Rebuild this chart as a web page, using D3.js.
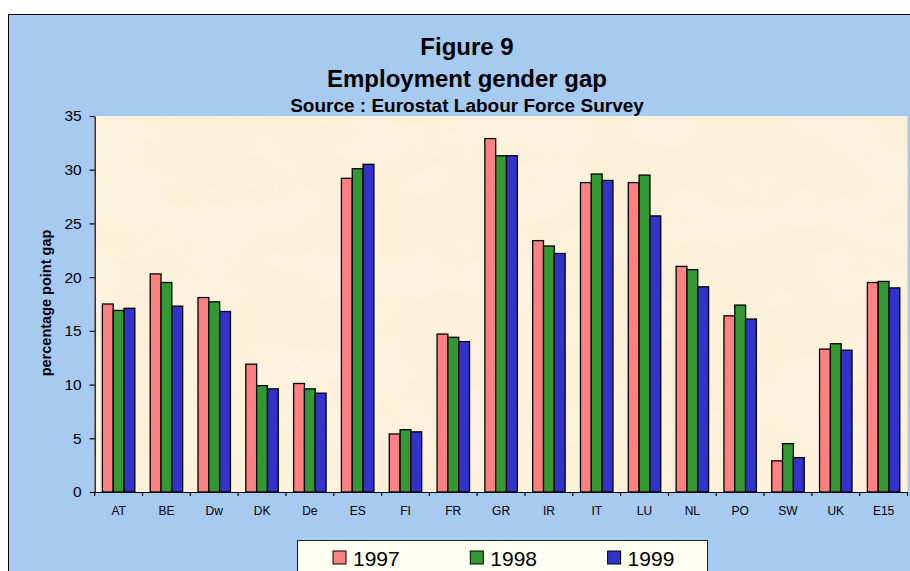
<!DOCTYPE html>
<html>
<head>
<meta charset="utf-8">
<script src="https://cdn.jsdelivr.net/npm/d3@7"></script>
<style>
  body { margin: 0; background: #fff; }
  svg { display: block; font-family: "Liberation Sans", Arial, sans-serif; }
</style>
</head>
<body>
<div class="plot"></div>
<script>
/* data */
const countries = ["AT", "BE", "Dw", "DK", "De", "ES", "FI", "FR", "GR", "IR", "IT", "LU", "NL", "PO", "SW", "UK", "E15"];
const years = ["1997", "1998", "1999"];
const gap1997 = [17.5, 20.3, 18.1, 11.9, 10.1, 29.2, 5.4, 14.7, 32.9, 23.4, 28.8, 28.8, 21.0, 16.4, 2.9, 13.3, 19.5];
const gap1998 = [16.9, 19.5, 17.7, 9.9, 9.6, 30.1, 5.8, 14.4, 31.3, 22.9, 29.6, 29.5, 20.7, 17.4, 4.5, 13.8, 19.6];
const gap1999 = [17.1, 17.3, 16.8, 9.6, 9.2, 30.5, 5.6, 14.0, 31.3, 22.2, 29.0, 25.7, 19.1, 16.1, 3.2, 13.2, 19.0];
const yTicks = [0, 5, 10, 15, 20, 25, 30, 35];

const colors = ["#ff8080", "#339933", "#3333cc"];

/* table built from the arrays */
const data = countries.map((c, i) => ({
  country: c,
  values: [gap1997[i], gap1998[i], gap1999[i]].map((v, j) => ({ year: years[j], value: v }))
}));

const width = 910, height = 571;
const plot = { left: 94.7, right: 907.5, top: 116, bottom: 492 };

const svg = d3.select(".plot").append("svg")
  .attr("width", width)
  .attr("height", height);

/* parchment texture for the plot area */
const defs = svg.append("defs");
const filt = defs.append("filter").attr("id", "parch")
  .attr("x", 0).attr("y", 0).attr("width", 1).attr("height", 1);
filt.append("feTurbulence")
  .attr("type", "fractalNoise")
  .attr("baseFrequency", "0.012 0.02")
  .attr("numOctaves", 4)
  .attr("seed", 7)
  .attr("result", "noise");
filt.append("feColorMatrix")
  .attr("in", "noise")
  .attr("type", "matrix")
  .attr("values", "0 0 0 0 0.99  0 0 0 0 0.92  0 0 0 0 0.80  0 0 0 -1.1 0.75")
  .attr("result", "tint");
filt.append("feComposite").attr("in", "tint").attr("in2", "SourceGraphic").attr("operator", "in");

/* blue outer panel */
svg.append("rect")
  .attr("x", 8.5).attr("y", 14.5)
  .attr("width", width + 20).attr("height", height + 20)
  .attr("fill", "#a6caf0")
  .attr("stroke", "#000")
  .attr("stroke-width", 1);

/* plot background */
svg.append("rect")
  .attr("x", plot.left).attr("y", plot.top)
  .attr("width", plot.right - plot.left).attr("height", plot.bottom - plot.top)
  .attr("fill", "#fcf0d8");
svg.append("rect")
  .attr("x", plot.left).attr("y", plot.top)
  .attr("width", plot.right - plot.left).attr("height", plot.bottom - plot.top)
  .attr("fill", "#fff")
  .attr("filter", "url(#parch)")
  .attr("opacity", 0.9);

/* titles */
const titles = [
  { text: "Figure 9", y: 55, size: 24 },
  { text: "Employment gender gap", y: 87, size: 24 },
  { text: "Source : Eurostat Labour Force Survey", y: 111.5, size: 19 }
];
svg.selectAll(".title")
  .data(titles)
  .join("text")
  .attr("class", "title")
  .attr("x", 467)
  .attr("y", d => d.y)
  .attr("text-anchor", "middle")
  .attr("font-weight", "bold")
  .attr("font-size", d => d.size)
  .text(d => d.text);

/* scales */
const x0 = d3.scaleBand()
  .domain(countries)
  .range([plot.left, plot.right])
  .padding(0);

const x1 = d3.scaleBand()
  .domain(years)
  .range([0, x0.bandwidth()])
  .paddingInner(0)
  .paddingOuter(0.71);

const y = d3.scaleLinear()
  .domain([0, 35])
  .range([plot.bottom, plot.top]);

/* bars */
const groups = svg.selectAll(".grp")
  .data(data)
  .join("g")
  .attr("class", "grp")
  .attr("transform", d => `translate(${x0(d.country)},0)`);

groups.selectAll("rect")
  .data(d => d.values)
  .join("rect")
  .attr("x", d => x1(d.year))
  .attr("y", d => y(d.value))
  .attr("width", x1.bandwidth())
  .attr("height", d => y(0) - y(d.value))
  .attr("fill", (d, i) => colors[i])
  .attr("stroke", "#000")
  .attr("stroke-width", 1.3);

/* y axis */
const yAxis = d3.axisLeft(y)
  .tickValues(yTicks)
  .tickSize(5)
  .tickPadding(8)
  .tickSizeOuter(0);

svg.append("g")
  .attr("transform", `translate(${plot.left},0)`)
  .call(yAxis)
  .call(g => g.selectAll("text")
    .attr("font-family", "Liberation Sans, Arial, sans-serif")
    .attr("font-size", 15.5)
    .attr("fill", "#000"))
  .call(g => g.selectAll("line, path").attr("stroke", "#000").attr("stroke-width", 1.2));

/* x axis: ticks between categories */
const xAxis = d3.axisBottom(x0).tickSize(0).tickPadding(14).tickSizeOuter(0);
const xg = svg.append("g")
  .attr("transform", `translate(0,${plot.bottom})`)
  .call(xAxis)
  .call(g => g.selectAll("text")
    .attr("font-family", "Liberation Sans, Arial, sans-serif")
    .attr("font-size", 12)
    .attr("fill", "#000"))
  .call(g => g.select(".domain").attr("stroke", "#000").attr("stroke-width", 1.2));

xg.selectAll(".sep")
  .data(countries.concat([null]))
  .join("line")
  .attr("class", "sep")
  .attr("x1", (d, i) => i < countries.length ? x0(d) : plot.right)
  .attr("x2", (d, i) => i < countries.length ? x0(d) : plot.right)
  .attr("y1", 0)
  .attr("y2", 4)
  .attr("stroke", "#000")
  .attr("stroke-width", 1.2);

/* y axis title */
svg.append("text")
  .attr("transform", "translate(51,303) rotate(-90)")
  .attr("text-anchor", "middle")
  .attr("font-weight", "bold")
  .attr("font-size", 14.5)
  .text("percentage point gap");

/* legend */
const legend = svg.append("g");
legend.append("rect")
  .attr("x", 297.5).attr("y", 540.5)
  .attr("width", 410).attr("height", 50)
  .attr("fill", "#fffff2")
  .attr("stroke", "#222")
  .attr("stroke-width", 1);

const items = legend.selectAll(".item")
  .data(years)
  .join("g")
  .attr("class", "item")
  .attr("transform", (d, i) => `translate(${333 + i * 137.3},551)`);

items.append("rect")
  .attr("width", 13).attr("height", 13)
  .attr("fill", (d, i) => colors[i])
  .attr("stroke", "#000")
  .attr("stroke-width", 1);

items.append("text")
  .attr("x", 20)
  .attr("y", 15)
  .attr("font-size", 21)
  .text(d => d);
</script>
</body>
</html>
